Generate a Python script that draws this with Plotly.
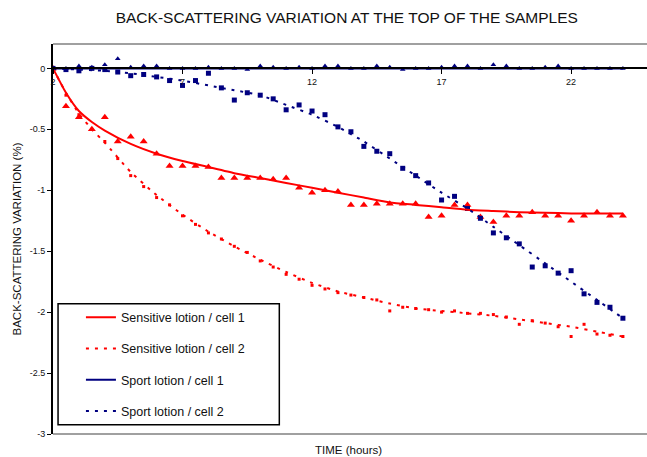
import plotly.graph_objects as go

# Measurement times (hours)
hours = [2, 2.5, 3, 3.5, 4, 4.5, 5, 5.5, 6, 6.5, 7, 7.5, 8, 8.5, 9, 9.5, 10, 10.5,
         11, 11.5, 12, 12.5, 13, 13.5, 14, 14.5, 15, 15.5, 16, 16.5, 17, 17.5, 18,
         18.5, 19, 19.5, 20, 20.5, 21, 21.5, 22, 22.5, 23, 23.5, 24]

# Back-scattering variation (%) measured for each lotion / cell
sensitive_cell1 = [0, -0.31, -0.4, -0.5, -0.4, -0.6, -0.56, -0.6, -0.7, -0.8, -0.8, -0.8,
                   -0.81, -0.9, -0.9, -0.9, -0.9, -0.91, -0.9, -0.98, -1.02, -1.0, -1.01,
                   -1.12, -1.12, -1.11, -1.11, -1.11, -1.11, -1.22, -1.21, -1.12, -1.12,
                   -1.22, -1.26, -1.21, -1.21, -1.18, -1.21, -1.21, -1.25, -1.21, -1.18,
                   -1.21, -1.21]
sensitive_cell2 = [0, -0.22, -0.38, -0.5, -0.6, -0.74, -0.88, -0.97, -1.06, -1.12, -1.21,
                   -1.28, -1.35, -1.4, -1.46, -1.51, -1.58, -1.63, -1.69, -1.73, -1.78,
                   -1.81, -1.84, -1.86, -1.88, -1.9, -1.99, -1.96, -1.97, -1.98, -2.0,
                   -1.99, -2.01, -2.01, -2.02, -2.04, -2.1, -2.07, -2.09, -2.12, -2.2,
                   -2.1, -2.18, -2.19, -2.2]
sport_cell1 = [0, 0.0, 0.02, 0.01, 0.03, 0.08, 0.01, 0.02, 0.02, 0.0, 0.0, 0.0, 0.01, 0.0,
               0.0, -0.01, 0.02, 0.01, 0.0, 0.01, 0.0, 0.02, 0.02, 0.0, 0.0, 0.02, 0.01,
               -0.01, 0.0, 0.0, 0.01, 0.02, 0.02, 0.0, 0.03, 0.02, 0.0, 0.0, 0.01, 0.02,
               0.0, 0.0, 0.0, 0.0, 0.0]
sport_cell2 = [0, -0.01, -0.02, 0.0, -0.01, -0.03, -0.06, -0.05, -0.07, -0.1, -0.14, -0.1,
               -0.04, -0.16, -0.26, -0.2, -0.22, -0.25, -0.34, -0.3, -0.35, -0.38, -0.48,
               -0.52, -0.64, -0.68, -0.7, -0.82, -0.88, -0.94, -1.08, -1.05, -1.15, -1.23,
               -1.35, -1.39, -1.44, -1.63, -1.62, -1.68, -1.66, -1.85, -1.92, -1.96, -2.05]

# Smoothed trend curves
trend_hours = [2, 2.5, 3, 3.5, 4, 5, 6, 7, 8, 9, 10, 11, 12, 13, 14, 15, 16, 17, 18, 19,
               20, 21, 22, 23, 24]
sensitive_cell1_trend = [0, -0.2, -0.35, -0.44, -0.51, -0.62, -0.7, -0.76, -0.81, -0.86,
                         -0.9, -0.94, -0.98, -1.02, -1.06, -1.1, -1.12, -1.14, -1.16,
                         -1.17, -1.18, -1.185, -1.19, -1.19, -1.19]
sensitive_cell2_trend = [0, -0.2, -0.37, -0.5, -0.61, -0.85, -1.04, -1.2, -1.34, -1.46,
                         -1.57, -1.67, -1.76, -1.83, -1.88, -1.93, -1.97, -1.99, -2.01,
                         -2.03, -2.06, -2.09, -2.12, -2.16, -2.2]
sport_cell1_trend = [0] * len(trend_hours)
sport_cell2_trend = [0, -0.005, -0.01, -0.015, -0.02, -0.04, -0.07, -0.1, -0.14, -0.18,
                     -0.22, -0.3, -0.38, -0.48, -0.6, -0.74, -0.88, -1.02, -1.15, -1.3,
                     -1.45, -1.6, -1.75, -1.9, -2.05]

y_ticks = [0, -0.5, -1, -1.5, -2, -2.5, -3]
y_tick_text = ["0", "-0.5", "-1", "-1.5", "-2", "-2.5", "-3"]
x_ticks = [2, 7, 12, 17, 22]

RED = "#FF0000"
NAVY = "#000080"
FONT = "Arial, Liberation Sans, sans-serif"
Y_RANGE = [-3, 0.2]
X_RANGE = [2, 24.93]

fig = go.Figure()

# Measured points
fig.add_trace(go.Scatter(x=hours, y=sensitive_cell1, mode="markers", showlegend=False,
                         marker=dict(symbol="triangle-up", size=7, color=RED)))
fig.add_trace(go.Scatter(x=hours, y=sensitive_cell2, mode="markers", showlegend=False,
                         marker=dict(symbol="square", size=3, color=RED)))
fig.add_trace(go.Scatter(x=hours, y=sport_cell1, mode="markers", showlegend=False,
                         marker=dict(symbol="triangle-up", size=5, color=NAVY)))
fig.add_trace(go.Scatter(x=hours, y=sport_cell2, mode="markers", showlegend=False,
                         marker=dict(symbol="square", size=5, color=NAVY)))

# Trend curves (legend entries)
curves = [
    ("Sensitive lotion / cell 1", sensitive_cell1_trend, RED, "solid"),
    ("Sensitive lotion / cell 2", sensitive_cell2_trend, RED, "3px,6px"),
    ("Sport lotion / cell 1", sport_cell1_trend, NAVY, "solid"),
    ("Sport lotion / cell 2", sport_cell2_trend, NAVY, "3px,6px"),
]
for i, (name, vals, col, dash) in enumerate(curves):
    fig.add_trace(go.Scatter(x=trend_hours, y=vals, mode="lines", name=name,
                             legendgroup=f"g{i}",
                             line=dict(color=col, width=2, dash=dash, shape="spline",
                                       smoothing=0.5)))

zero_pos = (0 - Y_RANGE[0]) / (Y_RANGE[1] - Y_RANGE[0])

fig.update_layout(
    width=647, height=457,
    margin=dict(l=53, r=0, t=44, b=23),
    paper_bgcolor="white", plot_bgcolor="white",
    font=dict(family=FONT, color="#000000"),
    title=dict(text="BACK-SCATTERING VARIATION AT THE TOP OF THE SAMPLES",
               x=0.536, xanchor="center", y=0.962, yanchor="middle",
               font=dict(size=15.5, color="#111111")),
    xaxis=dict(range=X_RANGE, tickvals=x_ticks, showgrid=False, zeroline=False,
               showline=True, linecolor="black", linewidth=2,
               ticks="outside", ticklen=5, tickcolor="black", tickwidth=1,
               tickfont=dict(size=9, color="#111111"),
               anchor="free", position=zero_pos),
    yaxis=dict(range=Y_RANGE, tickvals=y_ticks, ticktext=y_tick_text,
               showgrid=False, zeroline=False,
               showline=True, linecolor="black", linewidth=2,
               ticks="outside", ticklen=4, tickcolor="black", tickwidth=1,
               tickfont=dict(size=9, color="#111111"),
               title=dict(text="BACK-SCATTERING VARIATION (%)", standoff=6,
                          font=dict(size=11.5, color="#111111"))),
    legend=dict(x=0.01, xanchor="left", y=0.337, yanchor="top",
                bgcolor="rgba(0,0,0,0)", borderwidth=0,
                font=dict(size=12.5, color="#111111"),
                tracegroupgap=12, indentation=22),
    showlegend=True,
)

# Plot-area frame lines (top and bottom)
for yy in (0, 1):
    fig.add_shape(type="line", xref="paper", yref="paper", x0=0, x1=1, y0=yy, y1=yy,
                  line=dict(color="#A0A0A0", width=2), layer="below")

# Legend frame
fig.add_shape(type="rect", xref="paper", yref="paper", x0=0.0085, x1=0.381,
              y0=0.0235, y1=0.334, line=dict(color="black", width=1.5),
              fillcolor="white", layer="below")

fig.add_annotation(text="TIME (hours)", xref="paper", yref="paper", x=0.497, y=-0.04,
                   xanchor="center", yanchor="middle", showarrow=False,
                   font=dict(size=11.5, color="#111111"))

fig.write_html("out.html")
